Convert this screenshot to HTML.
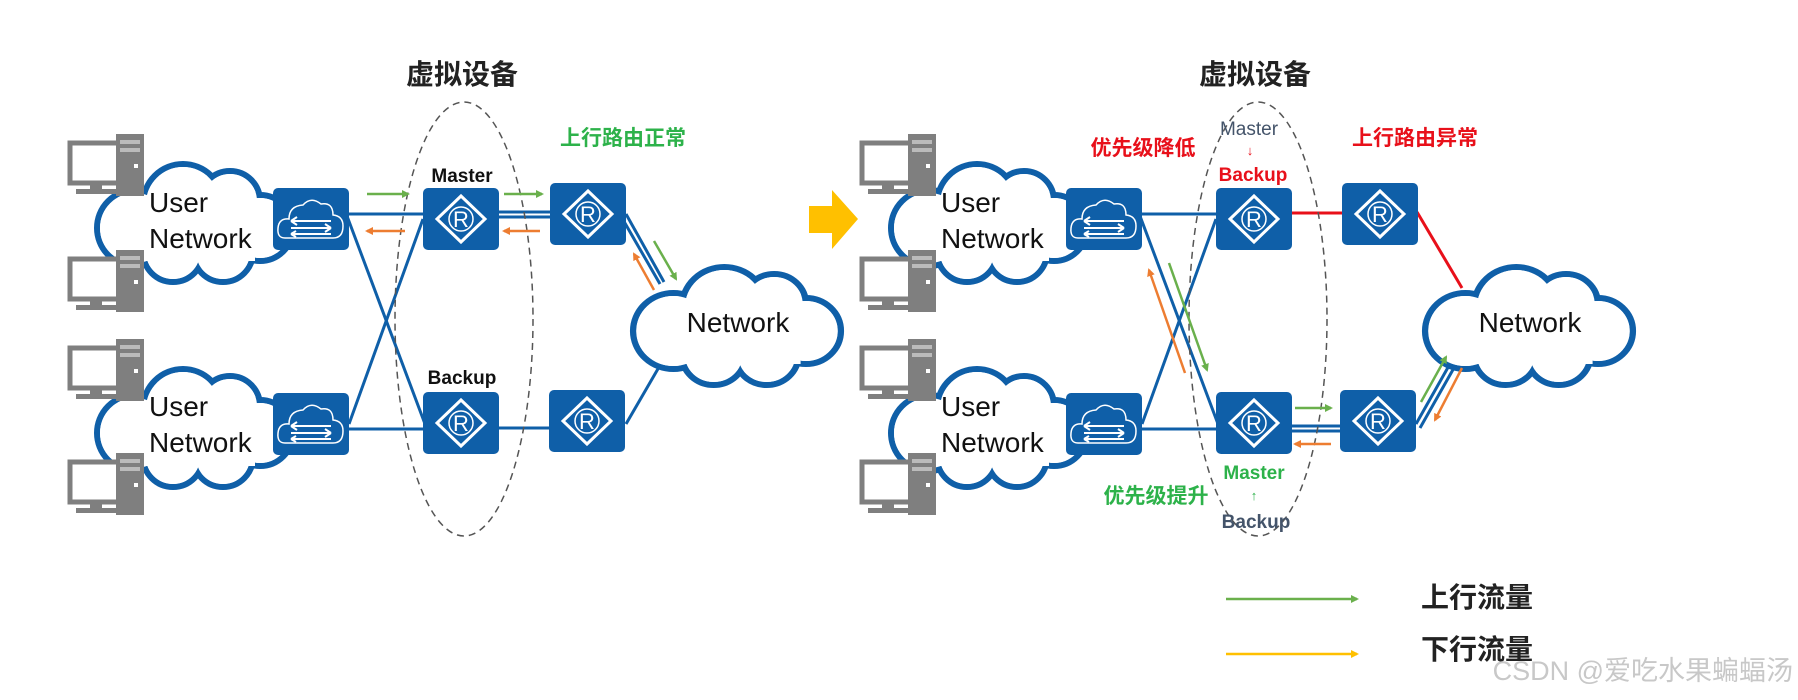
<!DOCTYPE html>
<html><head><meta charset="utf-8"><style>
html,body{margin:0;padding:0;background:#fff;}
svg{display:block;}
text{font-family:"Liberation Sans","Noto Sans CJK SC",sans-serif;}
</style></head><body>
<svg width="1798" height="700" viewBox="0 0 1798 700" xmlns="http://www.w3.org/2000/svg">
<defs>
  <g id="pc">
    <rect x="2" y="9" width="52" height="40" fill="#fff" stroke="#7f7f7f" stroke-width="5"/>
    <rect x="22" y="49" width="12" height="6" fill="#7f7f7f"/>
    <rect x="8" y="55" width="50" height="5" fill="#7f7f7f"/>
    <rect x="48" y="0" width="28" height="62" fill="#7f7f7f"/>
    <rect x="52" y="6" width="20" height="4" fill="#bbb"/>
    <rect x="52" y="14" width="20" height="4" fill="#bbb"/>
    <rect x="66" y="30" width="4" height="4" fill="#fff"/>
  </g>
  <g id="cloud">
    <g fill="#fff" stroke="#0f5fa8" stroke-width="6">
      <circle cx="40" cy="72" r="38"/><circle cx="88" cy="48" r="40"/><circle cx="135" cy="45" r="30"/>
      <circle cx="165" cy="72" r="33"/><circle cx="128" cy="96" r="30"/><circle cx="78" cy="96" r="30"/>
    </g>
    <g fill="#fff">
      <circle cx="40" cy="72" r="35"/><circle cx="88" cy="48" r="37"/><circle cx="135" cy="45" r="27"/>
      <circle cx="165" cy="72" r="30"/><circle cx="128" cy="96" r="27"/><circle cx="78" cy="96" r="27"/>
      <rect x="40" y="45" width="120" height="60"/>
    </g>
  </g>
  <g id="router">
    <rect x="0" y="0" width="76" height="62" rx="5" fill="#0f5fa8"/>
    <path d="M38 8 L62 31 L38 54 L14 31 Z" fill="none" stroke="#fff" stroke-width="3"/>
    <circle cx="38" cy="31" r="12" fill="none" stroke="#fff" stroke-width="1.5"/>
    <text x="38" y="39" font-size="22" fill="#fff" text-anchor="middle">R</text>
  </g>
  <g id="switch">
    <rect x="0" y="0" width="76" height="62" rx="5" fill="#0f5fa8"/>
    <path d="M12 50 Q4 50 5 40 Q6 30 16 31 Q16 18 30 17 Q38 8 48 16 Q60 14 60 27 Q70 28 70 38 Q70 50 60 50 Z" fill="none" stroke="#fff" stroke-width="1.5"/>
    <path d="M18 33 H58 M18 33 l6 -4 M18 33 l6 4 M18 40 H58 M58 40 l-6 -4 M58 40 l-6 4 M18 46 H58 M18 46 l5 -3 M18 46 l5 3" stroke="#fff" stroke-width="2" fill="none"/>
  </g>
  <marker id="ag" markerWidth="8" markerHeight="8" refX="6" refY="4" orient="auto" markerUnits="userSpaceOnUse"><path d="M0 0 L8 4 L0 8 Z" fill="#6ab04c"/></marker>
  <marker id="ao" markerWidth="8" markerHeight="8" refX="6" refY="4" orient="auto" markerUnits="userSpaceOnUse"><path d="M0 0 L8 4 L0 8 Z" fill="#ed7d31"/></marker>
  <marker id="ay" markerWidth="8" markerHeight="8" refX="6" refY="4" orient="auto" markerUnits="userSpaceOnUse"><path d="M0 0 L8 4 L0 8 Z" fill="#ffc000"/></marker>
</defs>

<!-- ============ LEFT PANEL ============ -->
<g stroke="#0f5fa8" stroke-width="3" fill="none">
  <line x1="349" y1="214" x2="423" y2="214"/>
  <line x1="349" y1="429" x2="423" y2="429"/>
  <line x1="347" y1="216" x2="425" y2="424"/>
  <line x1="349" y1="424" x2="423" y2="219"/>
  <line x1="499" y1="212" x2="550" y2="212"/><line x1="499" y1="217" x2="550" y2="217"/>
  <line x1="499" y1="428" x2="550" y2="428"/>
  <line x1="626" y1="214" x2="664" y2="282"/><line x1="622" y1="218" x2="660" y2="284"/>
  <line x1="626" y1="424" x2="666" y2="355"/>
</g>
<use href="#cloud" x="95" y="156"/>
<use href="#cloud" x="95" y="361"/>
<g transform="translate(631,259) scale(1.06,1)"><use href="#cloud"/></g>
<use href="#pc" x="68" y="134"/><use href="#pc" x="68" y="250"/>
<use href="#pc" x="68" y="339"/><use href="#pc" x="68" y="453"/>
<text x="149" y="212" font-size="28" fill="#111">User</text>
<text x="149" y="248" font-size="28" fill="#111">Network</text>
<text x="149" y="416" font-size="28" fill="#111">User</text>
<text x="149" y="452" font-size="28" fill="#111">Network</text>
<text x="738" y="332" font-size="28" fill="#111" text-anchor="middle">Network</text>
<use href="#switch" x="273" y="188"/><use href="#switch" x="273" y="393"/>
<use href="#router" x="423" y="188"/><use href="#router" x="423" y="392"/>
<use href="#router" x="550" y="183"/><use href="#router" x="549" y="390"/>
<ellipse cx="464" cy="319" rx="69" ry="217" fill="none" stroke="#555" stroke-width="1.5" stroke-dasharray="7 5"/>
<text x="462" y="84" font-size="28" font-weight="bold" fill="#222" text-anchor="middle">虚拟设备</text>
<text x="462" y="182" font-size="19" font-weight="bold" fill="#111" text-anchor="middle">Master</text>
<text x="462" y="384" font-size="19" font-weight="bold" fill="#111" text-anchor="middle">Backup</text>
<text x="623" y="145" font-size="21" font-weight="bold" fill="#2db24a" text-anchor="middle">上行路由正常</text>
<g stroke-width="2.5">
  <line x1="367" y1="194" x2="408" y2="194" stroke="#6ab04c" marker-end="url(#ag)"/>
  <line x1="405" y1="231" x2="367" y2="231" stroke="#ed7d31" marker-end="url(#ao)"/>
  <line x1="504" y1="194" x2="542" y2="194" stroke="#6ab04c" marker-end="url(#ag)"/>
  <line x1="540" y1="231" x2="504" y2="231" stroke="#ed7d31" marker-end="url(#ao)"/>
  <line x1="654" y1="241" x2="676" y2="279" stroke="#6ab04c" marker-end="url(#ag)"/>
  <line x1="654" y1="290" x2="634" y2="254" stroke="#ed7d31" marker-end="url(#ao)"/>
</g>
<path d="M809 206 H832 V190 L858 219 L832 249 V233 H809 Z" fill="#ffc000"/>

<!-- ============ RIGHT PANEL ============ -->
<g stroke="#0f5fa8" stroke-width="3" fill="none">
  <line x1="1142" y1="214" x2="1216" y2="214"/>
  <line x1="1142" y1="429" x2="1216" y2="429"/>
  <line x1="1140" y1="216" x2="1218" y2="424"/>
  <line x1="1142" y1="424" x2="1216" y2="219"/>
  <line x1="1292" y1="426" x2="1340" y2="426"/><line x1="1292" y1="431" x2="1340" y2="431"/>
  <line x1="1416" y1="424" x2="1455" y2="355"/><line x1="1420" y1="428" x2="1459" y2="359"/>
</g>
<g stroke="#e8101a" stroke-width="3">
  <line x1="1292" y1="213" x2="1342" y2="213"/>
  <line x1="1417" y1="212" x2="1462" y2="288"/>
</g>
<use href="#cloud" x="889" y="156"/>
<use href="#cloud" x="889" y="361"/>
<g transform="translate(1423,259) scale(1.06,1)"><use href="#cloud"/></g>
<use href="#pc" x="860" y="134"/><use href="#pc" x="860" y="250"/>
<use href="#pc" x="860" y="339"/><use href="#pc" x="860" y="453"/>
<text x="941" y="212" font-size="28" fill="#111">User</text>
<text x="941" y="248" font-size="28" fill="#111">Network</text>
<text x="941" y="416" font-size="28" fill="#111">User</text>
<text x="941" y="452" font-size="28" fill="#111">Network</text>
<text x="1530" y="332" font-size="28" fill="#111" text-anchor="middle">Network</text>
<use href="#switch" x="1066" y="188"/><use href="#switch" x="1066" y="393"/>
<use href="#router" x="1216" y="188"/><use href="#router" x="1216" y="392"/>
<use href="#router" x="1342" y="183"/><use href="#router" x="1340" y="390"/>
<ellipse cx="1258" cy="319" rx="69" ry="217" fill="none" stroke="#555" stroke-width="1.5" stroke-dasharray="7 5"/>
<text x="1255" y="84" font-size="28" font-weight="bold" fill="#222" text-anchor="middle">虚拟设备</text>
<text x="1249" y="135" font-size="19" fill="#44546a" text-anchor="middle">Master</text>
<text x="1250" y="155" font-size="13" fill="#e8101a" text-anchor="middle">↓</text>
<text x="1253" y="181" font-size="19" font-weight="bold" fill="#e8101a" text-anchor="middle">Backup</text>
<text x="1143" y="155" font-size="21" font-weight="bold" fill="#e8101a" text-anchor="middle">优先级降低</text>
<text x="1415" y="145" font-size="21" font-weight="bold" fill="#e8101a" text-anchor="middle">上行路由异常</text>
<text x="1254" y="479" font-size="19" font-weight="bold" fill="#2db24a" text-anchor="middle">Master</text>
<text x="1254" y="500" font-size="13" fill="#2db24a" text-anchor="middle">↑</text>
<text x="1256" y="528" font-size="19" font-weight="bold" fill="#44546a" text-anchor="middle">Backup</text>
<text x="1156" y="503" font-size="21" font-weight="bold" fill="#2db24a" text-anchor="middle">优先级提升</text>
<g stroke-width="2.5">
  <line x1="1169" y1="263" x2="1207" y2="370" stroke="#6ab04c" marker-end="url(#ag)"/>
  <line x1="1185" y1="373" x2="1149" y2="270" stroke="#ed7d31" marker-end="url(#ao)"/>
  <line x1="1295" y1="408" x2="1331" y2="408" stroke="#6ab04c" marker-end="url(#ag)"/>
  <line x1="1331" y1="444" x2="1295" y2="444" stroke="#ed7d31" marker-end="url(#ao)"/>
  <line x1="1421" y1="402" x2="1446" y2="357" stroke="#6ab04c" marker-end="url(#ag)"/>
  <line x1="1462" y1="368" x2="1435" y2="420" stroke="#ed7d31" marker-end="url(#ao)"/>
  <line x1="1226" y1="599" x2="1357" y2="599" stroke="#6ab04c" marker-end="url(#ag)"/>
  <line x1="1226" y1="654" x2="1357" y2="654" stroke="#ffc000" marker-end="url(#ay)"/>
</g>
<text x="1421" y="607" font-size="28" font-weight="bold" fill="#222">上行流量</text>
<text x="1421" y="659" font-size="28" font-weight="bold" fill="#222">下行流量</text>
<text x="1793" y="680" font-size="27" fill="#c8c8c8" text-anchor="end">CSDN @爱吃水果蝙蝠汤</text>
</svg>
</body></html>
